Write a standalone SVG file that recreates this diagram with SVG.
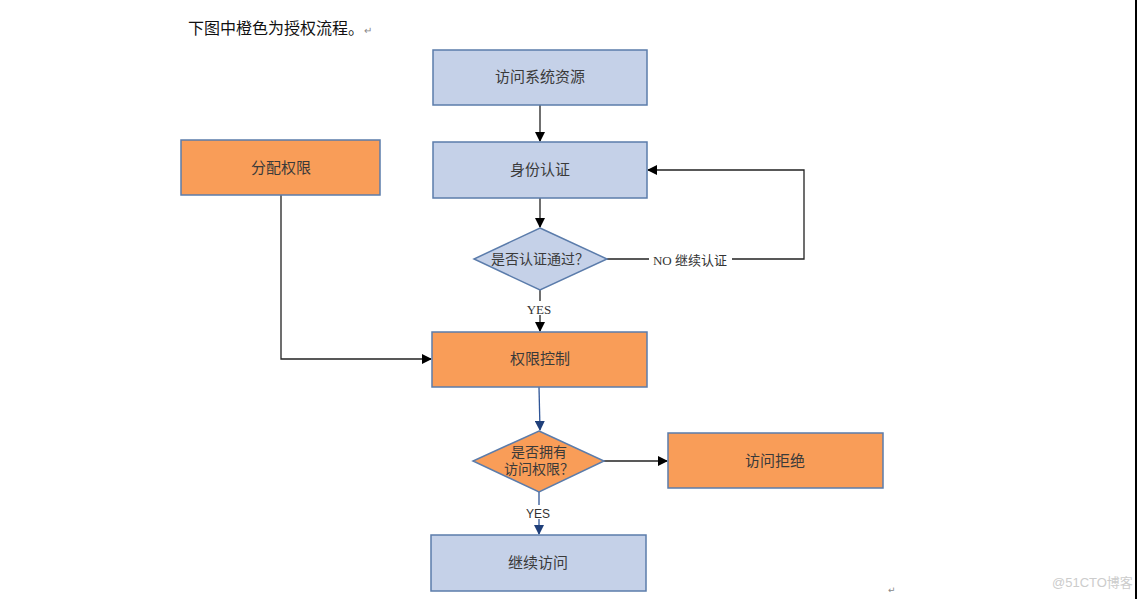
<svg xmlns="http://www.w3.org/2000/svg" width="1148" height="599" viewBox="0 0 1148 599">
<style>
.blue{fill:#c5d1e8;stroke:#5b7cab;stroke-width:1.5}
.orange{fill:#f99d58;stroke:#5b7cab;stroke-width:1.5}
.t{font-family:"Liberation Serif","Noto Sans CJK SC",serif;font-size:15px;fill:#3a3a3a;text-anchor:middle}
.d{font-family:"Liberation Serif","Noto Sans CJK SC",serif;font-size:14px;fill:#3a3a3a;text-anchor:middle}
.c{fill:none;stroke:#222;stroke-width:1.3}
.cb{fill:none;stroke:#2f5597;stroke-width:1.3}
.lbl{font-family:"Liberation Serif","Noto Sans CJK SC",serif;font-size:13px;fill:#333;text-anchor:middle}
</style>
<defs>
<marker id="ak" markerWidth="10" markerHeight="10" refX="9" refY="5" orient="auto" markerUnits="userSpaceOnUse"><path d="M0,0 L10,5 L0,10 z" fill="#000"/></marker>
<marker id="ab" markerWidth="10" markerHeight="10" refX="9" refY="5" orient="auto" markerUnits="userSpaceOnUse"><path d="M0,0 L10,5 L0,10 z" fill="#1f3f7a"/></marker>
</defs>
<rect width="1148" height="599" fill="#fff"/>
<text x="188" y="34" font-family="'Noto Sans CJK SC',sans-serif" font-size="16" fill="#111">下图中橙色为授权流程。<tspan font-size="10" fill="#888">↵</tspan></text>
<rect x="1135" y="0" width="2" height="599" fill="#000"/>
<g id="connectors">
<line class="c" x1="540" y1="105" x2="540" y2="141" marker-end="url(#ak)"/>
<line class="c" x1="540" y1="198" x2="540" y2="227" marker-end="url(#ak)"/>
<line class="c" x1="540" y1="290" x2="540" y2="331" marker-end="url(#ak)"/>
<polyline class="c" points="607,259 804,259 804,170 648,170" marker-end="url(#ak)"/>
<polyline class="c" points="281,195 281,359 431,359" marker-end="url(#ak)"/>
<line class="cb" x1="539" y1="387" x2="540" y2="430" marker-end="url(#ab)"/>
<line class="c" x1="604" y1="461" x2="667" y2="461" marker-end="url(#ak)"/>
<line class="cb" x1="539" y1="492" x2="539" y2="534" marker-end="url(#ab)"/>
<rect x="522" y="301" width="34" height="14" fill="#fff"/>
<text class="lbl" x="539" y="314">YES</text>
<rect x="649" y="252" width="83" height="16" fill="#fff"/>
<text class="lbl" x="690" y="265">NO 继续认证</text>
<rect x="524" y="505" width="30" height="14" fill="#fff"/>
<text x="538" y="518" font-family="'Liberation Sans',sans-serif" font-size="12" fill="#333" text-anchor="middle">YES</text>
</g>
<g id="n1"><rect class="blue" x="433" y="50" width="214" height="55"/><text class="t" x="540" y="82">访问系统资源</text></g>
<g id="n2"><rect class="blue" x="433" y="142" width="214" height="56"/><text class="t" x="540" y="175">身份认证</text></g>
<g id="n3"><polygon class="blue" points="540,228 607,259 540,290 474,259"/><text class="d" x="540" y="264">是否认证通过？</text></g>
<g id="n4"><rect class="orange" x="181" y="140" width="199" height="55"/><text class="t" x="281" y="173">分配权限</text></g>
<g id="n5"><rect class="orange" x="432" y="332" width="215" height="55"/><text class="t" x="540" y="364">权限控制</text></g>
<g id="n6"><polygon class="orange" points="539,431 604,461 539,492 473,461"/><text class="d" x="539" y="457">是否拥有</text><text class="d" x="539" y="474">访问权限？</text></g>
<g id="n7"><rect class="orange" x="668" y="433" width="215" height="55"/><text class="t" x="775" y="466">访问拒绝</text></g>
<g id="n8"><rect class="blue" x="431" y="535" width="215" height="56"/><text class="t" x="538" y="568">继续访问</text></g>
<text x="888" y="593" font-family="'DejaVu Sans',sans-serif" font-size="9" fill="#888">↵</text>
<text x="1052" y="587" font-family="'Liberation Sans','Noto Sans CJK SC',sans-serif" font-size="13" fill="#ccc">@51CTO博客</text>
</svg>
